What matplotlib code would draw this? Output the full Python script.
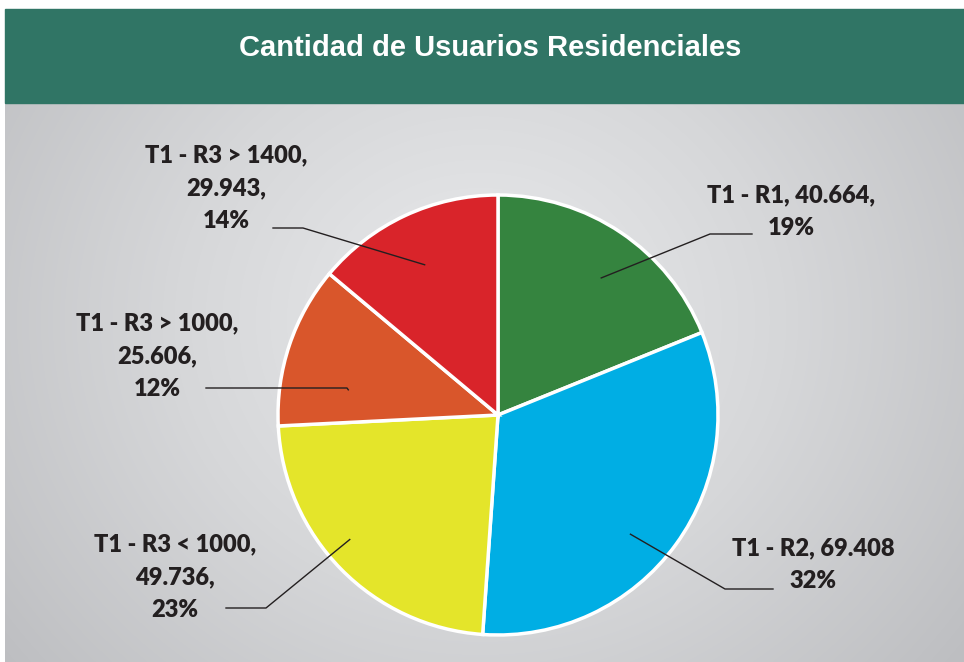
import numpy as np
import matplotlib.pyplot as plt
from matplotlib.colors import LinearSegmentedColormap

# data, clockwise from 12 o'clock
categories = ["T1 - R1", "T1 - R2", "T1 - R3 < 1000", "T1 - R3 > 1000", "T1 - R3 > 1400"]
users = [40664, 69408, 49736, 25606, 29943]
label_texts = [
    "T1 - R1, 40.664,\n19%",
    "T1 - R2, 69.408\n32%",
    "T1 - R3 < 1000,\n49.736,\n23%",
    "T1 - R3 > 1000,\n25.606,\n12%",
    "T1 - R3 > 1400,\n29.943,\n14%",
]
colors = ["#35843F", "#00AEE4", "#E4E52A", "#D9562B", "#D9242A"]
title = "Cantidad de Usuarios Residenciales"

W, H = 964, 662
fig = plt.figure(figsize=(W / 100, H / 100), dpi=100)
fig.patch.set_facecolor("white")

# background axes in pixel coordinates
bg = fig.add_axes([0, 0, 1, 1])
bg.set_xlim(0, W)
bg.set_ylim(H, 0)
bg.axis("off")

# radial grey gradient
yy, xx = np.mgrid[103:H, 5:W]
d = np.hypot(xx - 480, (yy - 320) * 1.1)
grad = np.clip(d / 620, 0, 1)
cmap = LinearSegmentedColormap.from_list("bg", ["#E9EAEC", "#D6D7D9", "#BDBEC1"])
bg.imshow(grad, cmap=cmap, extent=(5, W, H, 103), aspect="auto", zorder=0)

# title banner
bg.add_patch(plt.Rectangle((5, 9), W - 5, 94, color="#307565", zorder=1))
bg.text(490, 48, title, color="white", fontsize=21, fontweight="bold",
        family=["Liberation Sans Narrow", "Liberation Sans"], ha="center", va="center",
        zorder=2)

# pie
cx, cy, R = 498, 415, 220
pad = 1.02
pie_ax = fig.add_axes([(cx - R * pad) / W, (H - cy - R * pad) / H,
                       2 * R * pad / W, 2 * R * pad / H])
wedges, _ = pie_ax.pie(users, colors=colors, startangle=90, counterclock=False,
                       wedgeprops=dict(edgecolor="white", linewidth=2.5))
pie_ax.set_xlim(-pad, pad)
pie_ax.set_ylim(-pad, pad)
pie_ax.set_aspect("equal")
pie_ax.axis("off")
pie_ax.set_zorder(1)

# overlay for labels and leader lines
ov = fig.add_axes([0, 0, 1, 1], facecolor="none")
ov.set_xlim(0, W)
ov.set_ylim(H, 0)
ov.axis("off")
ov.set_zorder(2)

# label layout: text centre, leader elbow, leader end, leader radius, angle tweak
text_pos = [(791, 212), (813, 565), (175, 577), (157, 356), (226, 188)]
elbows = [(710, 234), (725, 589), (266, 608), (347, 388), (303, 228)]
ends = [(752, 234), (773, 589), (226, 608), (206, 388), (273, 228)]
radii = [0.78, 0.81, 0.88, 0.69, 0.76]
angle_tweak = [-3, -6, -4.4, 9, 1]

for w, txt, tp, el, en, r, da in zip(wedges, label_texts, text_pos, elbows, ends,
                                     radii, angle_tweak):
    th = np.deg2rad((w.theta1 + w.theta2) / 2 + da)
    px = cx + r * R * np.cos(th)
    py = cy - r * R * np.sin(th)
    ov.plot([px, el[0], en[0]], [py, el[1], en[1]], color="#231F20", lw=1.0)
    ov.text(tp[0], tp[1], txt, ha="center", va="center", multialignment="center",
            fontsize=17, fontweight="heavy", family=["Lato", "DejaVu Sans"],
            color="#231F20", linespacing=1.6)

fig.savefig("out.png", dpi=100)
